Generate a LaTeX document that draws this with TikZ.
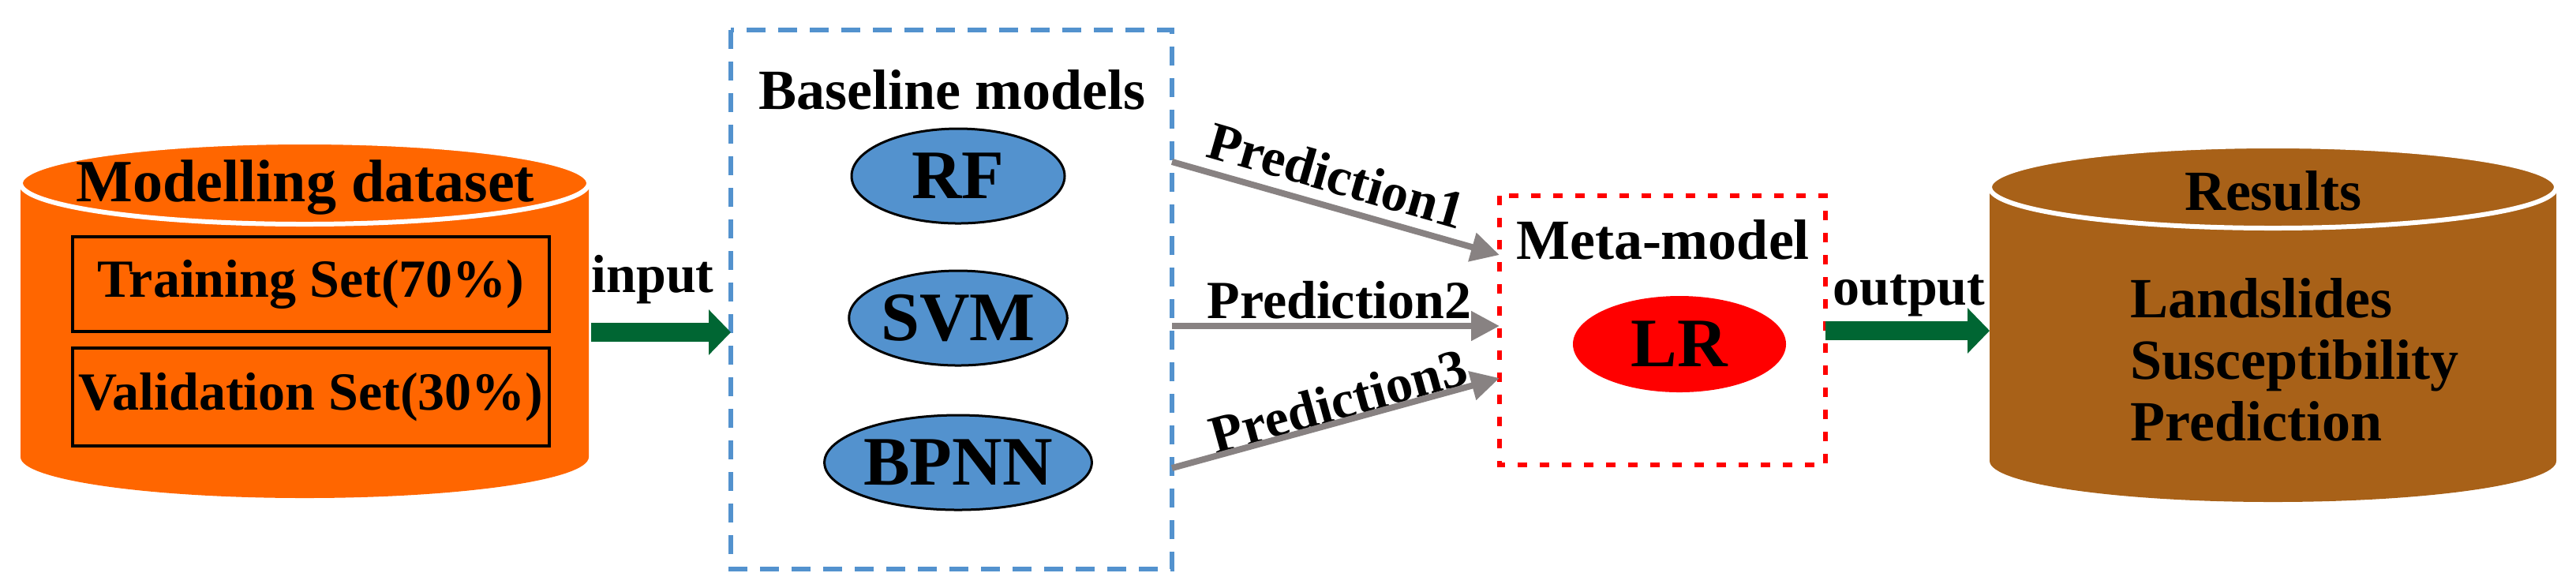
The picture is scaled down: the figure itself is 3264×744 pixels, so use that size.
\documentclass[tikz,border=0pt]{standalone}
\usepackage{fontspec}
\setmainfont{Liberation Serif}
\usetikzlibrary{arrows.meta,shapes.geometric}
\definecolor{dataorange}{RGB}{255,102,0}
\definecolor{resbrown}{RGB}{168,97,24}
\definecolor{modelblue}{RGB}{83,146,206}
\definecolor{arrgreen}{RGB}{0,102,51}
\definecolor{predgray}{RGB}{136,130,130}
\tikzset{every picture/.style={line width=0.75pt}}
\tikzset{
  lbl/.style={inner sep=0.75pt,font=\bfseries\fontsize{17}{19}\selectfont},
  model/.style={ellipse,draw=black,fill=modelblue,minimum width=67.5pt,minimum height=30pt,inner sep=0pt,font=\bfseries\fontsize{22}{24}\selectfont},
  pred/.style={draw=predgray,line width=2pt,-{Triangle[length=9pt,width=9pt]}},
  bigarrow/.style={draw=arrgreen,line width=6pt,-{Triangle[length=7pt,width=14pt]}},
}
\begin{document}
\begin{tikzpicture}[x=0.25pt,y=0.25pt,yscale=-1,xscale=1]
\useasboundingbox (0,0) rectangle (3264,744);

%Shape: Cylinder (dataset)
\fill[dataorange] (26,232) -- (26,579) arc[start angle=180,end angle=0,x radius=360,y radius=52] -- (746,232) -- cycle;
\draw[white,line width=1.5pt,fill=dataorange] (386,232) ellipse [x radius=360,y radius=52];
%Shape: Cylinder (results)
\fill[resbrown] (2521,237) -- (2521,584) arc[start angle=180,end angle=0,x radius=359,y radius=52] -- (3239,237) -- cycle;
\draw[white,line width=1.5pt,fill=resbrown] (2880,237) ellipse [x radius=359,y radius=52];

% Dashed boxes
\draw[modelblue,line width=1.5pt,dash pattern=on 6pt off 4pt] (926,38) rectangle (1485,721);
\draw[red,line width=1.5pt,dash pattern=on 3pt off 4pt] (1900,248) rectangle (2313,589);

% Text Node
\node[lbl,font=\bfseries\fontsize{19}{21}\selectfont] (dataset) at (387,237) {Modelling dataset};
\node[lbl,draw=black,line width=1pt,minimum width=151pt,minimum height=30pt] (train) at (394,360) {Training Set(70\%)};
\node[lbl,draw=black,line width=1pt,minimum width=151pt,minimum height=31pt] (valid) at (394,503) {Validation Set(30\%)};
\node[lbl] (input) at (827,354) {input};
\node[lbl,font=\bfseries\fontsize{18}{20}\selectfont] (base) at (1206,114) {Baseline models};
\node[model] (rf) at (1214,223) {RF};
\node[model] (svm) at (1214,403) {SVM};
\node[model] (bpnn) at (1214,586) {BPNN};
\node[lbl,font=\bfseries\fontsize{18}{20}\selectfont] (meta) at (2107,304) {Meta-model};
\node[ellipse,fill=red,minimum width=67.5pt,minimum height=30.5pt,inner sep=0pt,font=\bfseries\fontsize{22}{24}\selectfont] (lr) at (2128,436) {LR};
\node[lbl] (output) at (2419,375) {output};
\node[lbl,font=\bfseries\fontsize{18}{20}\selectfont] (results) at (2880,242) {Results};
\node[lbl,font=\bfseries\fontsize{18}{19.5}\selectfont,align=left,anchor=west] (land) at (2695,456) {Landslides\\Susceptibility\\Prediction};
\node[lbl,rotate=-16] (pred1) at (1694,222) {Prediction1};
\node[lbl] (pred2) at (1697,380) {Prediction2};
\node[lbl,rotate=15.5] (pred3) at (1696,508) {Prediction3};

% Connectors
\coordinate (in1) at (749,421);
\coordinate (in2) at (926,421);
\coordinate (p1a) at (1485,205);
\coordinate (p1b) at (1900,323);
\coordinate (p2a) at (1485,413);
\coordinate (p2b) at (1900,413);
\coordinate (p3a) at (1485,593);
\coordinate (p3b) at (1900,479);
\coordinate (out1) at (2313,419);
\coordinate (out2) at (2521,419);
\draw[bigarrow] (in1) -- (in2);
\draw[bigarrow] (out1) -- (out2);
\draw[pred] (p1a) -- (p1b);
\draw[pred] (p2a) -- (p2b);
\draw[pred] (p3a) -- (p3b);

\end{tikzpicture}
\end{document}
